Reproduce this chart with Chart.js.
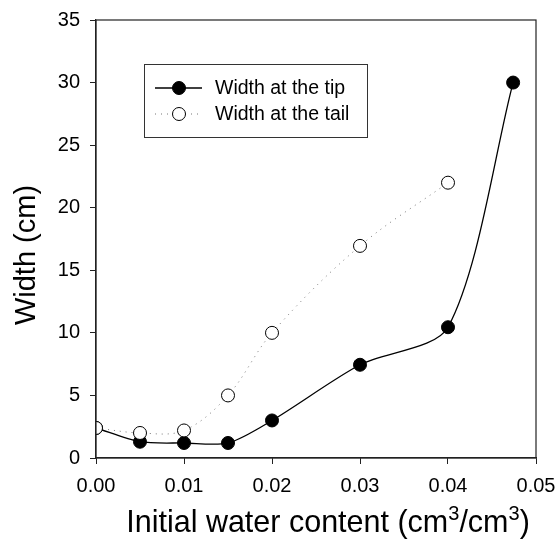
<!DOCTYPE html>
<html>
<head>
<meta charset="utf-8">
<script src="https://cdn.jsdelivr.net/npm/chart.js@4/dist/chart.umd.min.js"></script>
<style>
  html, body { margin: 0; padding: 0; background: #fff; }
  #wrap { width: 558px; height: 546px; }
</style>
</head>
<body>
<div id="wrap"><canvas id="chart" width="558" height="546"></canvas></div>
<script>
// данные с графика
const tipX = [0, 0.005, 0.01, 0.015, 0.02, 0.03, 0.04, 0.0474];
const tipY = [2.4, 1.3, 1.2, 1.2, 3.0, 7.45, 10.45, 30.0];
const tailX = [0, 0.005, 0.01, 0.015, 0.02, 0.03, 0.04];
const tailY = [2.4, 2.0, 2.2, 5.0, 10.0, 16.95, 22.0];
const xTicks = [0, 0.01, 0.02, 0.03, 0.04, 0.05];
const yTicks = [0, 5, 10, 15, 20, 25, 30, 35];
const seriesNames = ['Width at the tip', 'Width at the tail'];

const FONT = 'Liberation Sans, Arial, sans-serif';

// рисует текст с надстрочными "3" (cm³)
function drawSupText(ctx, parts, x, y, size) {
    // parts: [текст, sup?]
    const widths = parts.map(p => {
        ctx.font = (p[1] ? Math.round(size * 0.65) : size) + 'px ' + FONT;
        return ctx.measureText(p[0]).width;
    });
    let cx = x - widths.reduce((a, b) => a + b, 0) / 2;
    parts.forEach((p, i) => {
        ctx.font = (p[1] ? Math.round(size * 0.65) : size) + 'px ' + FONT;
        ctx.fillText(p[0], cx, p[1] ? y - size * 0.38 : y);
        cx += widths[i];
    });
}

// рамка, подписи осей и легенда
const frameLegend = {
    id: 'frameLegend',
    afterDraw(chart) {
        const { ctx, chartArea: a } = chart;
        ctx.save();
        ctx.strokeStyle = '#222';
        ctx.lineWidth = 1.2;
        ctx.strokeRect(a.left, a.top, a.right - a.left, a.bottom - a.top);

        // подписи осей
        ctx.fillStyle = '#000';
        ctx.textAlign = 'left';
        ctx.textBaseline = 'alphabetic';
        drawSupText(ctx, [['Initial water content (cm', false], ['3', true], ['/cm', false], ['3', true], [')', false]], 328, 532, 30.5);
        ctx.save();
        ctx.translate(35, 255);
        ctx.rotate(-Math.PI / 2);
        drawSupText(ctx, [['Width (cm)', false]], 0, 0, 29);
        ctx.restore();

        // легенда
        const bx = 144, by = 64, bw = 223, bh = 73;
        ctx.lineWidth = 1;
        ctx.strokeStyle = '#333';
        ctx.fillStyle = '#fff';
        ctx.fillRect(bx, by, bw, bh);
        ctx.strokeRect(bx + 0.5, by + 0.5, bw, bh);

        ctx.font = '19.5px ' + FONT;
        ctx.textBaseline = 'middle';
        chart.data.datasets.forEach((ds, i) => {
            const y = by + 24 + i * 26;
            ctx.save();
            ctx.strokeStyle = ds.borderColor;
            ctx.lineWidth = ds.borderWidth;
            ctx.setLineDash(ds.borderDash || []);
            ctx.beginPath();
            ctx.moveTo(155, y);
            ctx.lineTo(202, y);
            ctx.stroke();
            ctx.setLineDash([]);
            ctx.beginPath();
            ctx.arc(179, y, ds.pointRadius, 0, Math.PI * 2);
            ctx.fillStyle = ds.pointBackgroundColor;
            ctx.fill();
            ctx.strokeStyle = ds.pointBorderColor;
            ctx.lineWidth = ds.pointBorderWidth;
            ctx.stroke();
            ctx.restore();
            ctx.fillStyle = '#000';
            ctx.fillText(ds.label, 215, y + 1);
        });
        ctx.restore();
    }
};

new Chart(document.getElementById('chart'), {
    type: 'line',
    data: {
        datasets: [
            {
                label: seriesNames[0],
                data: tipX.map((x, i) => ({ x: x, y: tipY[i] })),
                borderColor: '#000',
                borderWidth: 1.3,
                pointRadius: 6.5,
                pointBackgroundColor: '#000',
                pointBorderColor: '#000',
                pointBorderWidth: 1,
                tension: 0.28,
                order: 2
            },
            {
                label: seriesNames[1],
                data: tailX.map((x, i) => ({ x: x, y: tailY[i] })),
                borderColor: '#777',
                borderWidth: 1,
                borderDash: [1, 5],
                pointRadius: 6.5,
                pointBackgroundColor: '#fff',
                pointBorderColor: '#000',
                pointBorderWidth: 1,
                tension: 0.35,
                order: 1
            }
        ]
    },
    options: {
        responsive: false,
        animation: false,
        layout: { padding: { left: 0, top: 20, right: 22, bottom: 0 } },
        plugins: { legend: { display: false }, tooltip: { enabled: false } },
        scales: {
            x: {
                type: 'linear',
                min: 0,
                max: 0.05,
                afterFit: s => { s.height = 88; s.paddingLeft = 0; s.paddingRight = 0; },
                afterBuildTicks: s => { s.ticks = xTicks.map(v => ({ value: v })); },
                grid: { drawOnChartArea: false, tickLength: 6, color: '#222' },
                border: { color: '#222', width: 1.2 },
                ticks: {
                    color: '#000',
                    font: { size: 20, family: FONT },
                    padding: 10,
                    maxRotation: 0,
                    callback: v => v.toFixed(2)
                }
            },
            y: {
                min: 0,
                max: 35,
                afterFit: s => { s.width = 96; s.paddingTop = 0; s.paddingBottom = 0; },
                afterBuildTicks: s => { s.ticks = yTicks.map(v => ({ value: v })); },
                grid: { drawOnChartArea: false, tickLength: 6, color: '#222' },
                border: { color: '#222', width: 1.2 },
                ticks: {
                    color: '#000',
                    font: { size: 20, family: FONT },
                    padding: 10
                }
            }
        }
    },
    plugins: [frameLegend]
});
</script>
</body>
</html>
